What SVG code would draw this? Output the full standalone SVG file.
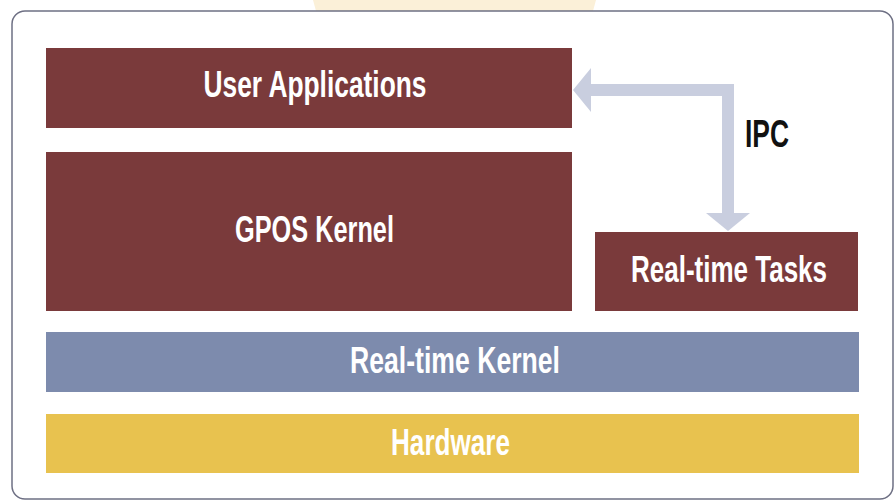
<svg xmlns="http://www.w3.org/2000/svg" width="896" height="500" viewBox="0 0 896 500">
  <style>
    .lbl { font-family: "Liberation Sans", Arial, sans-serif; font-weight: bold; font-size: 37px; fill: #ffffff; text-anchor: middle; }
    .ipc { font-family: "Liberation Sans", Arial, sans-serif; font-weight: bold; font-size: 38px; fill: #111111; text-anchor: middle; }
    .maroon { fill: #7a3a3b; }
    .blue { fill: #7d8bad; }
    .yellow { fill: #e8c24f; }
    .conn { fill: none; stroke: #c9cedf; stroke-width: 12; }
  </style>
  <defs>
    <marker id="head" viewBox="0 0 18 44" refX="0" refY="22" markerWidth="18" markerHeight="44" markerUnits="userSpaceOnUse" orient="auto-start-reverse">
      <path d="M0,0 L18,22 L0,44 Z" fill="#c9cedf"/>
    </marker>
  </defs>
  <rect x="0" y="0" width="896" height="500" fill="#ffffff"/>
  <path d="M313,0 H596 L593,11 H316 Z" fill="#fbf0d8"/>
  <rect x="12" y="11" width="881" height="488" rx="13" ry="13" fill="#ffffff" stroke="#6e7084" stroke-width="1.5"/>

  <g id="user-applications">
    <rect class="maroon" x="46" y="48" width="526" height="80"/>
    <text class="lbl" transform="translate(315,97) scale(0.712,1)" x="0" y="0">User Applications</text>
  </g>
  <g id="gpos-kernel">
    <rect class="maroon" x="46" y="152" width="526" height="159"/>
    <text class="lbl" transform="translate(314.5,242) scale(0.684,1)" x="0" y="0">GPOS Kernel</text>
  </g>
  <g id="real-time-tasks">
    <rect class="maroon" x="595" y="232" width="263" height="79"/>
    <text class="lbl" transform="translate(729,282) scale(0.703,1)" x="0" y="0">Real-time Tasks</text>
  </g>
  <g id="real-time-kernel">
    <rect class="blue" x="46" y="332" width="813" height="60"/>
    <text class="lbl" transform="translate(455,373) scale(0.719,1)" x="0" y="0">Real-time Kernel</text>
  </g>
  <g id="hardware">
    <rect class="yellow" x="46" y="414" width="813" height="59"/>
    <text class="lbl" transform="translate(450.5,455) scale(0.706,1)" x="0" y="0">Hardware</text>
  </g>

  <g id="connectors">
    <path class="conn" d="M591,90 H728 V213" marker-start="url(#head)" marker-end="url(#head)"/>
    <text class="ipc" transform="translate(767,147) scale(0.695,1)" x="0" y="0">IPC</text>
  </g>
</svg>
